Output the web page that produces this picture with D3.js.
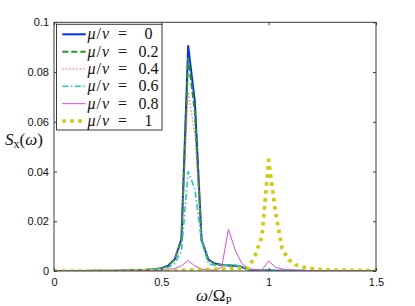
<!DOCTYPE html>
<html>
<head>
<meta charset="utf-8">
<script src="https://cdn.jsdelivr.net/npm/d3@7"></script>
<style>
  body { margin: 0; background: #fff; }
  svg { display: block; }
</style>
</head>
<body>
<svg id="chart"></svg>
<script>
// [A] Datos ------------------------------------------------------------------
// eje de frecuencias (paso 1/32)
const omega = [
  0, 0.03125, 0.0625, 0.09375, 0.125, 0.15625, 0.1875, 0.21875,
  0.25, 0.28125, 0.3125, 0.34375, 0.375, 0.40625, 0.4375, 0.46875,
  0.5, 0.53125, 0.5625, 0.59375, 0.625, 0.65625, 0.6875, 0.71875,
  0.75, 0.78125, 0.8125, 0.84375, 0.875, 0.90625, 0.9375, 0.96875,
  1, 1.03125, 1.0625, 1.09375, 1.125, 1.15625, 1.1875, 1.21875,
  1.25, 1.28125, 1.3125, 1.34375, 1.375, 1.40625, 1.4375, 1.46875, 1.5
];

const ratioLabels = ["0", "0.2", "0.4", "0.6", "0.8", "1"];

const s00 = [
  0, 0, 0, 0, 0, 0, 0.0001, 0.0001, 0.0001, 0.0001,
  0.0002, 0.0002, 0.0003, 0.0003, 0.0005, 0.0007,
  0.0011, 0.0021, 0.0047, 0.0128, 0.0905, 0.068, 0.0125, 0.0046,
  0.0030, 0.0024, 0.0022, 0.0021, 0.0016, 0.0006,
  0.0003, 0.0002, 0.0002, 0.0001, 0.0001, 0.0001,
  0.0001, 0.0001, 0, 0, 0, 0, 0, 0, 0, 0, 0, 0, 0
];
const s02 = [
  0, 0, 0, 0, 0, 0, 0.0001, 0.0001, 0.0001, 0.0001,
  0.0002, 0.0002, 0.0003, 0.0003, 0.0005, 0.0007,
  0.0011, 0.0021, 0.0046, 0.0126, 0.0855, 0.064, 0.0124, 0.0045,
  0.0029, 0.0024, 0.0023, 0.0022, 0.0017, 0.0006,
  0.0003, 0.0002, 0.0002, 0.0001, 0.0001, 0.0001,
  0.0001, 0.0001, 0, 0, 0, 0, 0, 0, 0, 0, 0, 0, 0
];
const s04 = [
  0, 0, 0, 0, 0, 0, 0.0001, 0.0001, 0.0001, 0.0001,
  0.0002, 0.0002, 0.0003, 0.0003, 0.0005, 0.0007,
  0.0011, 0.0020, 0.0044, 0.0118, 0.072, 0.055, 0.0128, 0.0043,
  0.0028, 0.0024, 0.0024, 0.0023, 0.0018, 0.0007,
  0.0003, 0.0002, 0.0002, 0.0001, 0.0001, 0.0001,
  0.0001, 0.0001, 0, 0, 0, 0, 0, 0, 0, 0, 0, 0, 0
];
const s06 = [
  0, 0, 0, 0, 0, 0, 0.0001, 0.0001, 0.0001, 0.0001,
  0.0001, 0.0002, 0.0002, 0.0003, 0.0004, 0.0006,
  0.0009, 0.0014, 0.0030, 0.0080, 0.040, 0.033, 0.012, 0.0030,
  0.0022, 0.0022, 0.0024, 0.0024, 0.0018, 0.0006,
  0.0003, 0.0002, 0.0002, 0.0001, 0.0001, 0.0001,
  0.0001, 0.0001, 0, 0, 0, 0, 0, 0, 0, 0, 0, 0, 0
];
const s08 = [
  0, 0, 0, 0, 0, 0, 0, 0, 0, 0,
  0.0001, 0.0001, 0.0001, 0.0001, 0.0002, 0.0002,
  0.0003, 0.0006, 0.0010, 0.0021, 0.0042, 0.0020, 0.0008, 0.0004,
  0.0003, 0.0015, 0.0168, 0.0085, 0.0030, 0.0010,
  0.0004, 0.0004, 0.0040, 0.0015, 0.0008, 0.0005,
  0.0003, 0.0002, 0.0002, 0.0001, 0.0001, 0.0001, 0.0001, 0, 0, 0, 0, 0, 0
];
const s10 = [
  0, 0, 0, 0, 0, 0, 0, 0, 0, 0,
  0, 0, 0, 0.0001, 0.0001, 0.0001,
  0.0002, 0.0002, 0.0003, 0.0003, 0.0004, 0.0004, 0.0005, 0.0006,
  0.0007, 0.0008, 0.0009, 0.0010, 0.0010, 0.0012,
  0.0064, 0.0138, 0.0446, 0.024, 0.009, 0.0045,
  0.0025, 0.0016, 0.0011, 0.0008, 0.0006, 0.0005, 0.0004, 0.0004,
  0.0003, 0.0003, 0.0002, 0.0002, 0.0002
];

const seriesValues = [s00, s02, s04, s06, s08, s10];

const xTicks = [0, 0.5, 1, 1.5];
const xTickLabels = ["0", "0.5", "1", "1.5"];
const yTicks = [0, 0.02, 0.04, 0.06, 0.08, 0.1];
const yTickLabels = ["0", "0.02", "0.04", "0.06", "0.08", "0.1"];

// [B] Estilos de las series --------------------------------------------------
const styles = [
  { color: "#0a2cf5", width: 2, dash: null },
  { color: "#1f9a1f", width: 2, dash: "6,3" },
  { color: "#f26060", width: 1, dash: "1.5,2" },
  { color: "#1cc8c8", width: 1.6, dash: "6,2.5,1.5,2.5" },
  { color: "#dc4ee0", width: 1, dash: null },
  { color: "#cccc00", width: 3.6, dash: "3.5,4.5" }
];

// [C] Configuracion ----------------------------------------------------------
const width = 415, height = 306;
const plotLeft = 54, plotRight = 376, plotTop = 22.3, plotBottom = 271;

const svg = d3.select("#chart").attr("width", width).attr("height", height);

const x = d3.scaleLinear().domain([0, 1.5]).range([plotLeft, plotRight]);
const y = d3.scaleLinear().domain([0, 0.1]).range([plotBottom, plotTop]);

svg.append("defs").append("clipPath").attr("id", "clip")
  .append("rect")
  .attr("x", plotLeft).attr("y", plotTop)
  .attr("width", plotRight - plotLeft).attr("height", plotBottom - plotTop);

// [D] Curvas -----------------------------------------------------------------
const line = d3.line()
  .x((d, i) => x(omega[i]))
  .y(d => y(d));

const curves = svg.append("g").attr("clip-path", "url(#clip)");
seriesValues.forEach((vals, i) => {
  const st = styles[i];
  curves.append("path")
    .attr("d", line(vals))
    .attr("fill", "none")
    .attr("stroke", st.color)
    .attr("stroke-width", st.width)
    .attr("stroke-dasharray", st.dash)
    .attr("stroke-linejoin", "round");
});

// [E] Ejes -------------------------------------------------------------------
const axisColor = "#3a3a3a";
const tickFont = "'Liberation Sans', Arial, sans-serif";

function styleAxis(g) {
  g.select(".domain").remove();
  g.selectAll(".tick line").attr("stroke", axisColor);
  g.selectAll(".tick text")
    .attr("fill", "#111")
    .style("font-family", tickFont)
    .style("font-size", "11px");
}

svg.append("g")
  .attr("transform", `translate(0,${plotBottom})`)
  .call(d3.axisBottom(x).tickValues(xTicks)
    .tickFormat((d, i) => xTickLabels[i]).tickSize(-3).tickPadding(7))
  .call(styleAxis);

svg.append("g")
  .attr("transform", `translate(0,${plotTop})`)
  .call(d3.axisTop(x).tickValues(xTicks).tickFormat("").tickSize(-3))
  .call(styleAxis);

svg.append("g")
  .attr("transform", `translate(${plotLeft},0)`)
  .call(d3.axisLeft(y).tickValues(yTicks)
    .tickFormat((d, i) => yTickLabels[i]).tickSize(-3).tickPadding(5))
  .call(styleAxis);

svg.append("g")
  .attr("transform", `translate(${plotRight},0)`)
  .call(d3.axisRight(y).tickValues(yTicks).tickFormat("").tickSize(-3))
  .call(styleAxis);

// marco
svg.append("rect")
  .attr("x", plotLeft).attr("y", plotTop)
  .attr("width", plotRight - plotLeft).attr("height", plotBottom - plotTop)
  .attr("fill", "none")
  .attr("stroke", axisColor)
  .attr("stroke-width", 1);

// [F] Etiquetas de ejes ------------------------------------------------------
const lserif = "'Liberation Serif', 'DejaVu Serif', serif";

const yl = svg.append("text")
  .attr("x", 5).attr("y", 145)
  .style("font-family", lserif).style("font-size", "17px").attr("fill", "#111");
yl.append("tspan").style("font-style", "italic").text("S");
yl.append("tspan").attr("dy", 3).style("font-size", "12px").text("x");
yl.append("tspan").attr("dy", -3).text("(");
yl.append("tspan").style("font-style", "italic").text("ω");
yl.append("tspan").text(")");

const xl = svg.append("text")
  .attr("x", 196).attr("y", 301)
  .style("font-family", lserif).style("font-size", "17px").attr("fill", "#111");
xl.append("tspan").style("font-style", "italic").text("ω");
xl.append("tspan").text("/Ω");
xl.append("tspan").attr("dy", 3).style("font-size", "11px").text("P");

// [G] Leyenda ----------------------------------------------------------------
const legX = 56.5, legY = 24.3, legW = 105.5, legH = 105.7;
const legend = svg.append("g");
legend.append("rect")
  .attr("x", legX).attr("y", legY)
  .attr("width", legW).attr("height", legH)
  .attr("fill", "#fff").attr("stroke", axisColor).attr("stroke-width", 1);

const rowY = d3.scaleLinear().domain([0, 5]).range([34.3, 121]);

ratioLabels.forEach((lab, i) => {
  const st = styles[i];
  const ry = rowY(i);
  legend.append("line")
    .attr("x1", 62.3).attr("x2", 85.7)
    .attr("y1", ry).attr("y2", ry)
    .attr("stroke", st.color)
    .attr("stroke-width", st.width)
    .attr("stroke-dasharray", st.dash);

  const t = legend.append("text")
    .attr("x", 87.5).attr("y", ry + 5)
    .style("font-family", lserif).style("font-size", "16px").attr("fill", "#111");
  t.append("tspan").style("font-style", "italic").text("μ");
  t.append("tspan").attr("dx", 1).text("/");
  t.append("tspan").attr("dx", 1).style("font-style", "italic").text("ν");

  legend.append("text")
    .attr("x", 118).attr("y", ry + 5)
    .style("font-family", lserif).style("font-size", "16px").attr("fill", "#111")
    .text("=");

  legend.append("text")
    .attr("x", 148.5).attr("y", ry + 5)
    .attr("text-anchor", "middle")
    .style("font-family", lserif).style("font-size", "16px").attr("fill", "#111")
    .text(lab);
});
</script>
</body>
</html>
